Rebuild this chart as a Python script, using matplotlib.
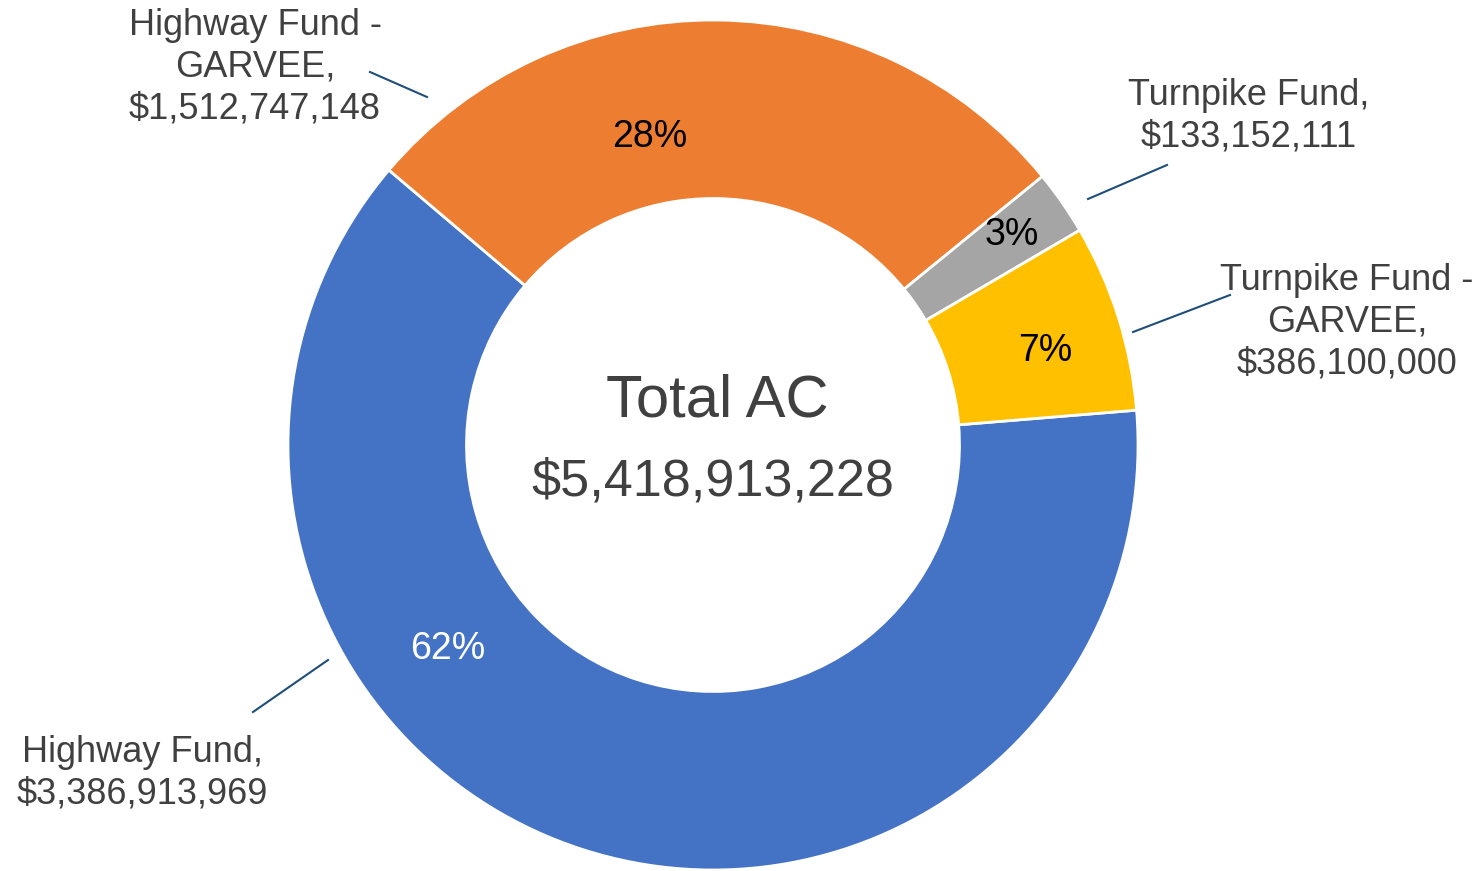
import matplotlib.pyplot as plt

plt.rcParams['font.family'] = ['Liberation Sans', 'DejaVu Sans']

# funding sources (clockwise from the right-hand side)
names = ['Highway Fund', 'Highway Fund -\nGARVEE', 'Turnpike Fund', 'Turnpike Fund -\nGARVEE']
amounts = [3386913969, 1512747148, 133152111, 386100000]
pct_labels = ['62%', '28%', '3%', '7%']
colors = ['#4472C4', '#ED7D31', '#A5A5A5', '#FFC000']
pct_colors = ['white', 'black', 'black', 'black']

total = sum(amounts)

# pixel helpers: centre of the ring at (713, 445), outer radius 425 px
CX, CY, R = 713, 445, 425
W, H = 1481, 871


def px(x, y):
    return (x - CX) / R, (CY - y) / R


fig = plt.figure(figsize=(W / 100, H / 100), dpi=100)
ax = fig.add_axes([0, 0, 1, 1])

ax.pie(amounts, colors=colors, startangle=4.7, counterclock=False, radius=1.0,
       wedgeprops=dict(width=0.42, edgecolor='white', linewidth=2))

ax.set_aspect('auto')
ax.set_xlim(-CX / R, (W - CX) / R)
ax.set_ylim(-(H - CY) / R, CY / R)
ax.axis('off')

# percentage labels inside the ring
pct_pos = [(448, 649), (650, 137), (1012, 235), (1045, 351)]
for lab, (x, y), c in zip(pct_labels, pct_pos, pct_colors):
    ax.text(*px(x, y), lab, ha='center', va='center', fontsize=27, color=c)

# outside category labels with leader lines
label_pos = [(142, 773), (255, 67), (1249, 116), (1347, 322)]
leaders = [((328, 660), (253, 712)), ((370, 72), (427, 97)),
           ((1167, 165), (1088, 199)), ((1230, 295), (1133, 332))]
for name, amt, (x, y), (p0, p1) in zip(names, amounts, label_pos, leaders):
    ax.text(*px(x, y), f'{name},\n${amt:,}', ha='center', va='center',
            fontsize=26, color='#404040', linespacing=1.25)
    (x0, y0), (x1, y1) = px(*p0), px(*p1)
    ax.plot([x0, x1], [y0, y1], color='#1F4E79', lw=1.5)

# total in the hole
ax.text(*px(717, 401), 'Total AC', ha='center', va='center', fontsize=43, color='#404040')
ax.text(*px(713, 482), f'${total:,}', ha='center', va='center', fontsize=37.5, color='#404040')

fig.savefig('out.png', dpi=100)
